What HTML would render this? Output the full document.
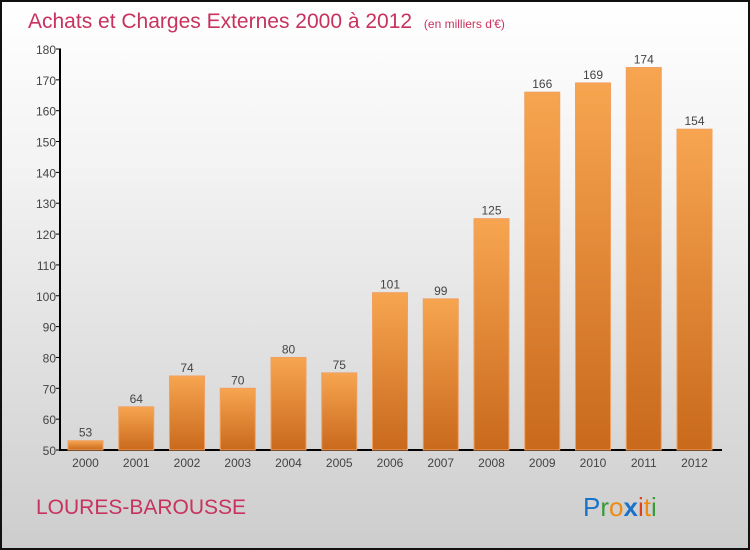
<!DOCTYPE html>
<html><head><meta charset="utf-8"><style>
body{margin:0}
#c{width:750px;height:550px;position:relative;box-sizing:border-box;border:2px solid #111;background:linear-gradient(#fff,#f3f3f3 30%,#cdcdcd);font-family:"Liberation Sans",sans-serif;overflow:hidden}
</style></head><body>
<div id="c">
<svg width="750" height="550" style="position:absolute;left:-2px;top:-2px">
<defs><linearGradient id="g" x1="0" y1="0" x2="0" y2="1"><stop offset="0" stop-color="#f7a550"/><stop offset="1" stop-color="#c9691c"/></linearGradient></defs>
<text x="28" y="28" font-size="21" fill="#c8325e">Achats et Charges Externes 2000 à 2012 <tspan font-size="12" dx="6">(en milliers d'€)</tspan></text>
<g id="axes"></g><g id="bars"></g>
<text x="36" y="514" font-size="21" fill="#c8325e">LOURES-BAROUSSE</text>
<text x="583" y="516" font-size="26"><tspan fill="#1a73c8">P</tspan><tspan fill="#3a9a3a">r</tspan><tspan fill="#f08a10">o</tspan><tspan fill="#1a73c8" font-weight="bold">x</tspan><tspan fill="#e04020">i</tspan><tspan fill="#f08a10">t</tspan><tspan fill="#3a9a3a">i</tspan></text>
</svg>
</div>
<script>
const years=["2000","2001","2002","2003","2004","2005","2006","2007","2008","2009","2010","2011","2012"];
const values=[53,64,74,70,80,75,101,99,125,166,169,174,154];
const ticks=[50,60,70,80,90,100,110,120,130,140,150,160,170,180];
const NS="http://www.w3.org/2000/svg";
const y=v=>450-(v-50)*(401/130);
const x=i=>85.5+i*50.75;
function mk(t,a,p,txt){const e=document.createElementNS(NS,t);for(const k in a)e.setAttribute(k,a[k]);if(txt!==undefined)e.textContent=txt;p.appendChild(e);return e;}
const ax=document.getElementById('axes'),bg=document.getElementById('bars');
let l=mk('line',{x1:60,y1:49,x2:60,y2:451,stroke:'#000','stroke-width':2},ax);

l=mk('line',{x1:59,y1:450,x2:722,y2:450,stroke:'#000','stroke-width':2},ax);

ticks.forEach(t=>{
 mk('line',{x1:56,y1:y(t),x2:61,y2:y(t),stroke:'#000'},ax);
 const e=mk('text',{x:56,y:y(t)+5,'text-anchor':'end','font-size':12,fill:'#444'},ax,t);
 
});
years.forEach((yr,i)=>{
 const v=values[i];
 const r=mk('rect',{x:x(i)-17.5,y:y(v),width:35,height:450-y(v),fill:'url(#g)',stroke:'#f0a060','stroke-width':1},bg);
 
 const t=mk('text',{x:x(i),y:y(v)-4,'text-anchor':'middle','font-size':12,fill:'#444'},bg,v);
 
 const xl=mk('text',{x:x(i),y:467,'text-anchor':'middle','font-size':12,fill:'#444'},bg,yr);
 
});
</script>
</body></html>
